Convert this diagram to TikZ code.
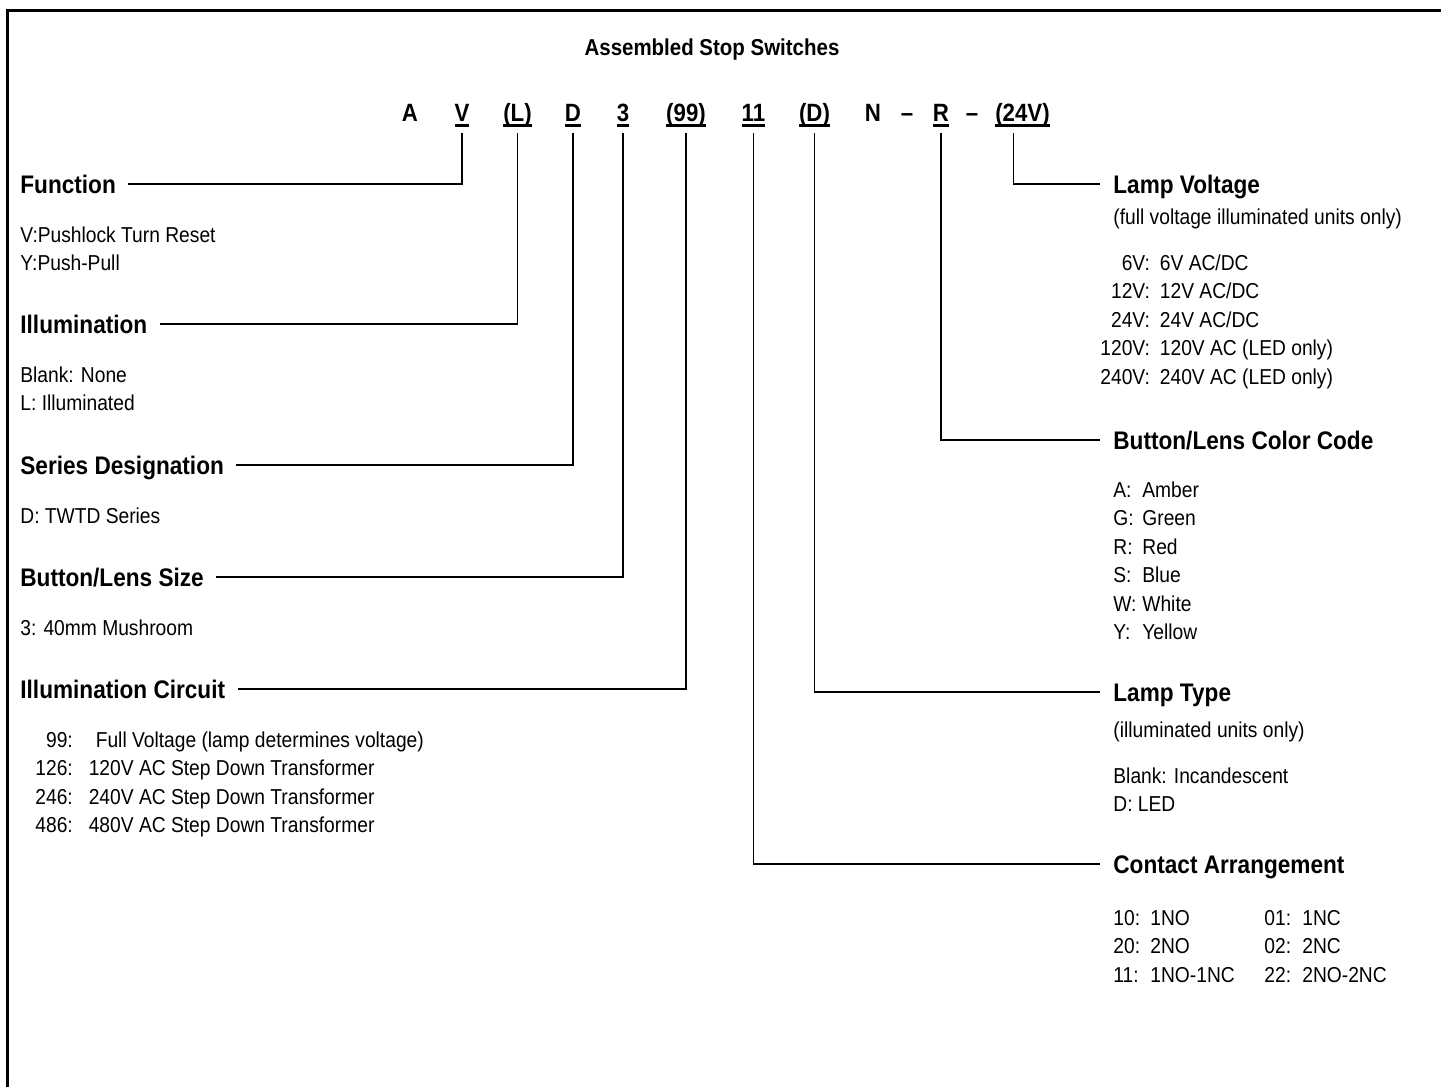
\documentclass[tikz,border=0pt]{standalone}
\usepackage{fontspec}
\setmainfont{Liberation Sans}[FakeStretch=0.89]
\usetikzlibrary{positioning}

\newcommand{\ulcode}[1]{\setbox0=\hbox{#1}\rlap{\rule[-2.85pt]{\wd0}{1.2pt}}\box0}
\newcommand{\txtfont}{\fontsize{10.8}{14.25}\selectfont}
\newcommand{\hdfont}{\fontsize{12.7}{15}\selectfont\bfseries}

\begin{document}
\begin{tikzpicture}[x=0.5pt,y=-0.5pt,
    code/.style={font=\fontsize{12.5}{15}\selectfont\bfseries, inner sep=0pt, text depth=0pt, anchor=base},
    heading/.style={font=\hdfont, inner sep=0pt, text height=9pt, text depth=0pt, anchor=base west},
    list/.style={font=\txtfont, inner sep=0pt, anchor=base west},
    link/.style={line width=0.6pt}]
    \useasboundingbox (0,0) rectangle (1441,1087);

    % frame
    \draw[line width=1.5pt] (7.5,1087) -- (7.5,10.5) -- (1441,10.5);

    % title and part number
    \node[font=\fontsize{11.5}{14}\selectfont\bfseries, inner sep=0pt, anchor=base] (title) at (712,55) {Assembled Stop Switches};
    \node[code] (cA) at (410,121) {A};
    \node[code] (cV) at (462,121) {\ulcode{V}};
    \node[code] (cL) at (517.5,121) {\ulcode{(L)}};
    \node[code] (cD) at (573,121) {\ulcode{D}};
    \node[code] (c3) at (623,121) {\ulcode{3}};
    \node[code] (c99) at (686,121) {\ulcode{(99)}};
    \node[code] (c11) at (753.5,121) {\ulcode{11}};
    \node[code] (cLD) at (814.5,121) {\ulcode{(D)}};
    \node[code] (cN) at (873,121) {N};
    \node[code] (cDashA) at (907,121) {–};
    \node[code] (cR) at (941,121) {\ulcode{R}};
    \node[code] (cDashB) at (972,121) {–};
    \node[code] (c24V) at (1022.5,121) {\ulcode{(24V)}};

    % left column
    \node[heading] (hFunc) at (20,193) {Function};
    \node[list] (lFunc) at (20,242) {\begin{tabular}[t]{@{}l@{}}V:Pushlock Turn Reset\\Y:Push-Pull\end{tabular}};

    \node[heading] (hIllum) at (20,333) {Illumination};
    \node[list] (lIllum) at (20,382) {\begin{tabular}[t]{@{}l@{}}Blank: None\\L: Illuminated\end{tabular}};

    \node[heading] (hSeries) at (20,474) {Series Designation};
    \node[list] (lSeries) at (20,523) {D: TWTD Series};

    \node[heading] (hSize) at (20,586) {Button/Lens Size};
    \node[list] (lSize) at (20,635) {3: 40mm Mushroom};

    \node[heading] (hCirc) at (20,698) {Illumination Circuit};
    \node[list] (lCirc) at (35,747) {\begin{tabular}[t]{@{}r@{\hspace{8pt}}l@{}}
        99: & \hspace{3.5pt}Full Voltage (lamp determines voltage)\\
        126: & 120V AC Step Down Transformer\\
        246: & 240V AC Step Down Transformer\\
        486: & 480V AC Step Down Transformer
    \end{tabular}};

    % right column
    \node[heading] (hVolt) at (1113,193) {Lamp Voltage};
    \node[list] (sVolt) at (1113,224) {(full voltage illuminated units only)};
    \node[list] (lVolt) at (1100,270) {\begin{tabular}[t]{@{}r@{\hspace{5pt}}l@{}}
        6V: & 6V AC/DC\\
        12V: & 12V AC/DC\\
        24V: & 24V AC/DC\\
        120V: & 120V AC (LED only)\\
        240V: & 240V AC (LED only)
    \end{tabular}};

    \node[heading] (hColor) at (1113,449) {Button/Lens Color Code};
    \node[list] (lColor) at (1113,497) {\begin{tabular}[t]{@{}p{14.5pt}@{}l@{}}
        A: & Amber\\
        G: & Green\\
        R: & Red\\
        S: & Blue\\
        W: & White\\
        Y: & Yellow
    \end{tabular}};

    \node[heading] (hType) at (1113,701) {Lamp Type};
    \node[list] (sType) at (1113,737) {(illuminated units only)};
    \node[list] (lType) at (1113,783) {\begin{tabular}[t]{@{}l@{}}Blank: Incandescent\\D: LED\end{tabular}};

    \node[heading] (hContact) at (1113,873) {Contact Arrangement};
    \node[list] (lContact) at (1113,925) {\begin{tabular}[t]{@{}p{18.5pt}@{}p{57pt}@{}p{19pt}@{}l@{}}
        10: & 1NO & 01: & 1NC\\
        20: & 2NO & 02: & 2NC\\
        11: & 1NO-1NC & 22: & 2NO-2NC
    \end{tabular}};

    % leader lines
    \draw[link] ([yshift=-6pt]cV.south) |- ([xshift=6pt]hFunc.east);
    \draw[link] ([yshift=-6pt]cL.south) |- ([xshift=6pt]hIllum.east);
    \draw[link] ([yshift=-6pt]cD.south) |- ([xshift=6pt]hSeries.east);
    \draw[link] ([yshift=-6pt]c3.south) |- ([xshift=6pt]hSize.east);
    \draw[link] ([yshift=-6pt]c99.south) |- ([xshift=6pt]hCirc.east);
    \draw[link] ([xshift=-4.5pt,yshift=-6pt]c24V.south) |- ([xshift=-6.5pt]hVolt.west);
    \draw[link] ([yshift=-6pt]cR.south) |- ([xshift=-6.5pt]hColor.west);
    \draw[link] ([yshift=-6pt]cLD.south) |- ([xshift=-6.5pt]hType.west);
    \draw[link] ([yshift=-6pt]c11.south) |- ([xshift=-6.5pt]hContact.west);
\end{tikzpicture}
\end{document}
